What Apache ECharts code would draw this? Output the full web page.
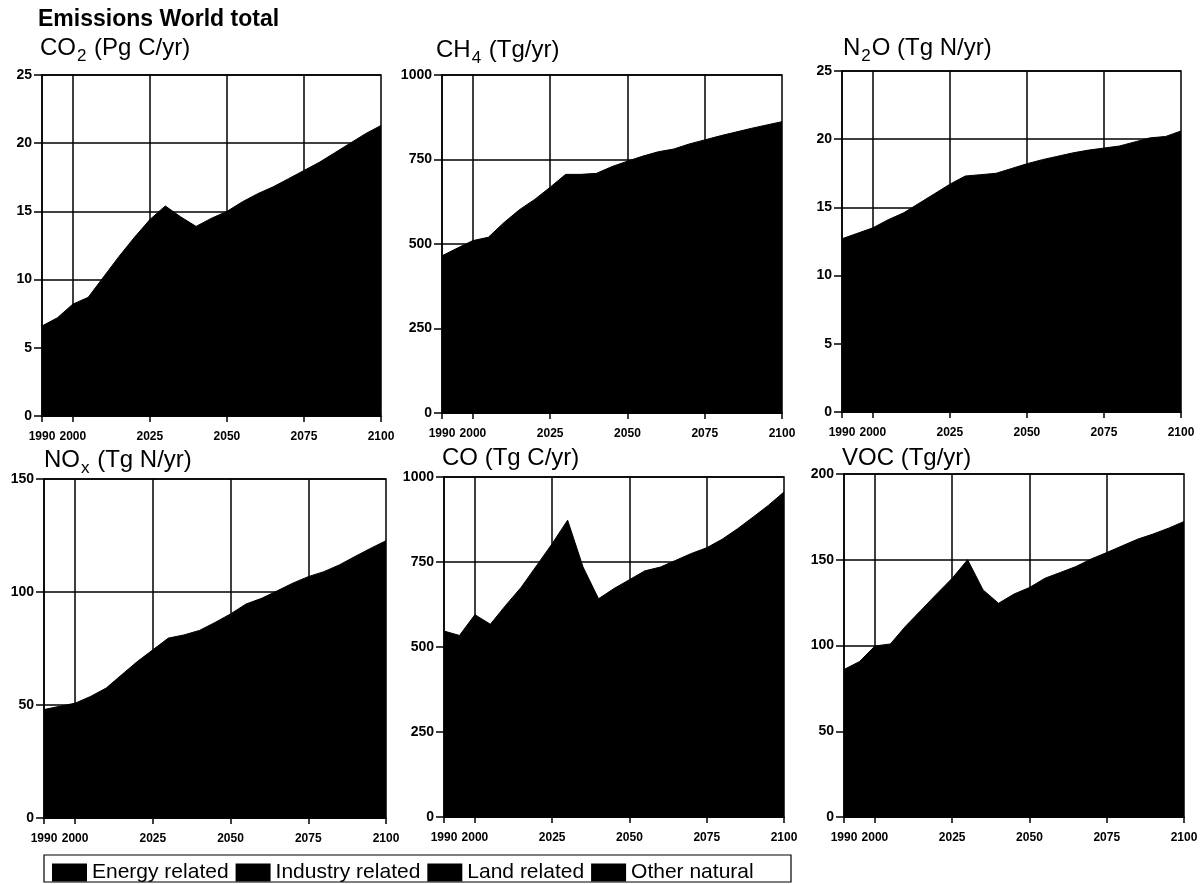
<!DOCTYPE html>
<html>
<head>
<meta charset="utf-8">
<title>Emissions World total</title>
<script src="https://cdn.jsdelivr.net/npm/echarts@6/dist/echarts.min.js"></script>
<style>
  html, body { margin: 0; padding: 0; background: #fff; }
  #chart { width: 1203px; height: 884px; }
</style>
</head>
<body>
<div id="chart"></div>
<script>
// data (world total, stacked sources all shown in black)
const years = ['1990', '1995', '2000', '2005', '2010', '2015', '2020', '2025', '2030', '2035', '2040', '2045',
  '2050', '2055', '2060', '2065', '2070', '2075', '2080', '2085', '2090', '2095', '2100']
const labelYears = ['1990', '2000', '2025', '2050', '2075', '2100']
const gridYears = ['2000', '2025', '2050', '2075']

const co2 = [6.6, 7.2, 8.2, 8.7, 10.2, 11.7, 13.1, 14.4, 15.4, 14.6, 13.9, 14.5,
  15.0, 15.7, 16.3, 16.8, 17.4, 18.0, 18.6, 19.3, 20.0, 20.7, 21.3]
const ch4 = [465, 488, 510, 520, 563, 601, 632, 668, 706, 706, 709, 729,
  745, 760, 773, 781, 796, 808, 820, 831, 842, 852, 862]
const n2o = [12.7, 13.1, 13.5, 14.1, 14.6, 15.3, 16.0, 16.7, 17.3, 17.4, 17.5, 17.85,
  18.2, 18.5, 18.75, 19.0, 19.2, 19.35, 19.5, 19.8, 20.1, 20.2, 20.6]
const nox = [48, 49.4, 50.8, 53.8, 57.5, 63.4, 69.2, 74.4, 79.6, 81, 83, 86.5,
  90.3, 94.7, 97.2, 100.5, 103.9, 106.8, 109, 112, 115.7, 119.3, 122.7]
const co = [547, 534, 595, 567, 623, 676, 740, 804, 873, 735, 642, 672,
  698, 724, 735, 755, 775, 792, 817, 848, 882, 917, 956]
const voc = [86, 90.6, 99.7, 100.9, 111.4, 120.7, 130.1, 139.2, 150, 132.4, 124.6, 130,
  133.8, 139.2, 142.6, 146, 150.5, 154.2, 158.1, 162, 165, 168.4, 172.3]

const legendNames = ['Energy related', 'Industry related', 'Land related', 'Other natural']

const panels = [
  { title: '{a|CO}{s|2}{a| (Pg C/yr)}', values: co2, max: 25, step: 5 },
  { title: '{a|CH}{s|4}{a| (Tg/yr)}', values: ch4, max: 1000, step: 250 },
  { title: '{a|N}{s|2}{a|O (Tg N/yr)}', values: n2o, max: 25, step: 5 },
  { title: '{a|NO}{s|x}{a| (Tg N/yr)}', values: nox, max: 150, step: 50 },
  { title: '{a|CO (Tg C/yr)}', values: co, max: 1000, step: 250 },
  { title: '{a|VOC (Tg/yr)}', values: voc, max: 200, step: 50 },
]

// layout: plot boxes [left, top, width, height] and title anchors [left, top]
const boxes = [
  [42, 75, 339, 341], [442, 75, 340, 338], [842, 71, 339, 341],
  [44, 479, 342, 339], [444, 477, 340, 340], [844, 474, 340, 343],
]
const titleAt = [[40, 36], [436, 38], [843, 36], [44, 448], [442, 446], [842, 446]]

const FONT = '"Liberation Sans", Arial, Helvetica, sans-serif'
const INK = '#000'
const line = { color: INK, width: 1.5 }

const chart = echarts.init(document.getElementById('chart'), null, { renderer: 'canvas' })

const titles = [{
  text: 'Emissions World total',
  left: 38,
  top: 8,
  padding: 0,
  textStyle: { fontFamily: FONT, fontSize: 23, fontWeight: 'bold', color: INK },
}].concat(panels.map((p, i) => ({
  text: p.title,
  left: titleAt[i][0],
  top: titleAt[i][1],
  padding: 0,
  textStyle: {
    fontFamily: FONT,
    fontWeight: 'normal',
    rich: {
      a: { fontFamily: FONT, fontSize: 24, fontWeight: 'normal', color: INK, verticalAlign: 'top', lineHeight: 30 },
      s: { fontFamily: FONT, fontSize: 17, fontWeight: 'normal', color: INK, verticalAlign: 'top', lineHeight: 30, padding: [12, 1, 0, 1] },
    },
  },
})))

const grids = boxes.map(b => ({
  left: b[0], top: b[1], width: b[2], height: b[3],
  show: true, borderColor: INK, borderWidth: 1.5, backgroundColor: '#fff',
}))

const xAxes = panels.map((p, i) => ({
  type: 'category',
  gridIndex: i,
  data: years,
  boundaryGap: false,
  axisLine: { lineStyle: line },
  axisTick: { show: true, length: 6, interval: (idx, v) => labelYears.includes(v), lineStyle: line },
  axisLabel: {
    interval: (idx, v) => labelYears.includes(v),
    margin: 15, fontFamily: FONT, fontSize: 12, fontWeight: 'bold', color: INK,
  },
  splitLine: { show: true, interval: (idx, v) => gridYears.includes(v), lineStyle: line },
}))

const yAxes = panels.map((p, i) => ({
  type: 'value',
  gridIndex: i,
  min: 0,
  max: p.max,
  interval: p.step,
  axisLine: { show: true, lineStyle: line },
  axisTick: { show: true, length: 8, lineStyle: line },
  axisLabel: {
    margin: 10, fontFamily: FONT, fontSize: 14, fontWeight: 'bold', color: INK,
    formatter: v => String(v),
  },
  splitLine: { show: true, lineStyle: line },
}))

const totalSeries = panels.map((p, i) => ({
  type: 'line',
  name: 'World total ' + i,
  xAxisIndex: i,
  yAxisIndex: i,
  data: p.values,
  symbol: 'none',
  silent: true,
  lineStyle: { color: INK, width: 1 },
  areaStyle: { color: INK, opacity: 1 },
  z: 3,
}))

// legend-only entries: the four sources are all printed in black
const legendSeries = legendNames.map(name => ({
  type: 'line',
  name,
  xAxisIndex: 0,
  yAxisIndex: 0,
  data: [],
  itemStyle: { color: INK },
  lineStyle: { color: INK },
}))

chart.setOption({
  backgroundColor: '#fff',
  animation: false,
  title: titles,
  grid: grids,
  xAxis: xAxes,
  yAxis: yAxes,
  legend: {
    data: legendNames,
    left: 52,
    top: 862,
    padding: 0,
    icon: 'rect',
    itemWidth: 35,
    itemHeight: 18,
    itemGap: 7,
    selectedMode: false,
    itemStyle: { color: INK },
    textStyle: { fontFamily: FONT, fontSize: 21, color: INK },
  },
  graphic: [{
    type: 'rect',
    shape: { x: 44, y: 855, width: 747, height: 27 },
    style: { fill: null, stroke: INK, lineWidth: 1.2 },
    silent: true,
  }],
  series: totalSeries.concat(legendSeries),
})
</script>
</body>
</html>
